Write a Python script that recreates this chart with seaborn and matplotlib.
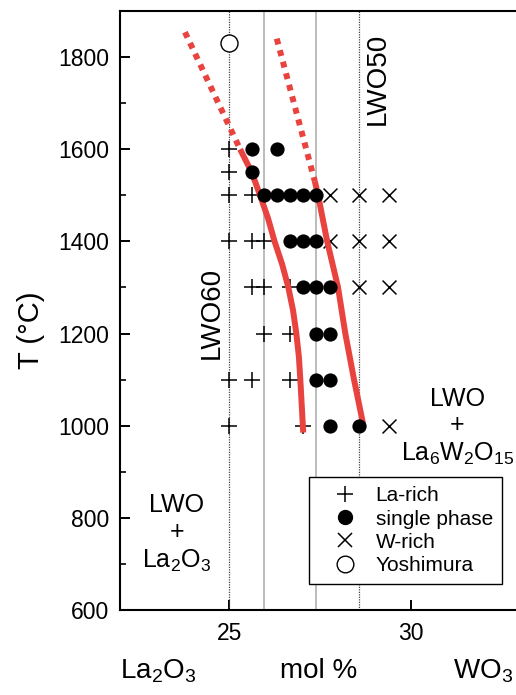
import matplotlib
matplotlib.use("Agg")
import matplotlib.pyplot as plt
from matplotlib.lines import Line2D
import seaborn as sns
import pandas as pd

# Phase observations: WO3 content (mol %) and annealing temperature (°C)
la_rich_wo3 = [25.00, 25.00, 25.00, 25.64, 25.00, 25.64, 25.97,
               25.64, 25.97, 26.67, 25.97, 26.67,
               25.00, 25.64, 26.67, 25.00, 27.03]
la_rich_T = [1600, 1550, 1500, 1500, 1400, 1400, 1400,
             1300, 1300, 1300, 1200, 1200,
             1100, 1100, 1100, 1000, 1000]

single_wo3 = [25.64, 26.32, 25.64,
              25.97, 26.32, 26.67, 27.03, 27.40,
              26.67, 27.03, 27.40,
              27.03, 27.40, 27.78,
              27.40, 27.78, 27.40, 27.78, 27.78, 28.57]
single_T = [1600, 1600, 1550,
            1500, 1500, 1500, 1500, 1500,
            1400, 1400, 1400,
            1300, 1300, 1300,
            1200, 1200, 1100, 1100, 1000, 1000]

w_rich_wo3 = [27.78, 28.57, 29.41, 27.78, 28.57, 29.41, 28.57, 29.41, 29.41]
w_rich_T = [1500, 1500, 1500, 1400, 1400, 1400, 1300, 1300, 1000]

yoshimura_wo3 = [25.0]
yoshimura_T = [1830]

# Phase boundaries (solid: measured range, dotted: extrapolation)
left_wo3 = [25.30, 25.62, 25.85, 26.07, 26.25, 26.46, 26.63, 26.76, 26.85, 26.92, 26.96, 27.04]
left_T = [1600, 1550, 1500, 1450, 1400, 1350, 1300, 1250, 1200, 1150, 1100, 985]
left_ext_wo3 = [23.78, 25.30]
left_ext_T = [1854, 1600]

right_wo3 = [27.36, 27.45, 27.70, 28.00, 28.20, 28.44, 28.70]
right_T = [1530, 1500, 1400, 1300, 1200, 1100, 1000]
right_ext_wo3 = [26.31, 27.36]
right_ext_T = [1840, 1530]

# Reference compositions: LWO60, La/W 5.7, La/W 5.3, LWO50
dotted_refs = [25.0, 28.57]
solid_refs = [25.97, 27.40]

y_ticks = [600, 800, 1000, 1200, 1400, 1600, 1800]
x_ticks = [25, 30]

sns.set_style("ticks")
plt.rcParams["font.family"] = ["Liberation Sans", "DejaVu Sans"]
plt.rcParams["mathtext.fontset"] = "custom"
plt.rcParams["mathtext.rm"] = "Liberation Sans"
plt.rcParams["mathtext.it"] = "Liberation Sans:italic"
plt.rcParams["mathtext.bf"] = "Liberation Sans:bold"
for key in ["text.color", "axes.labelcolor", "xtick.color", "ytick.color",
            "xtick.labelcolor", "ytick.labelcolor"]:
    plt.rcParams[key] = "black"

W, H = 516, 695
fig = plt.figure(figsize=(W / 100, H / 100), dpi=100)
ax = fig.add_axes([120 / W, (H - 610) / H, (530 - 120) / W, (610 - 11) / H])

red = "#e8433f"

for xv in dotted_refs:
    ax.axvline(xv, color="#444444", lw=0.9, ls=(0, (1, 1)), zorder=1)
for xv in solid_refs:
    ax.axvline(xv, color="#b0b0b0", lw=1.2, zorder=1)

def curve(xs, ys, dotted=False):
    df = pd.DataFrame({"x": xs, "y": ys})
    sns.lineplot(data=df, x="x", y="y", sort=False, estimator=None, ax=ax,
                 color=red, lw=4.3, zorder=3,
                 ls=(0, (1, 1)) if dotted else "-",
                 dash_capstyle="butt", solid_capstyle="butt")

curve(left_wo3, left_T)
curve(left_ext_wo3, left_ext_T, dotted=True)
curve(right_wo3, right_T)
curve(right_ext_wo3, right_ext_T, dotted=True)

sns.scatterplot(x=la_rich_wo3, y=la_rich_T, marker="+", s=130, color="k",
                linewidth=1.1, ax=ax, zorder=2, legend=False)
sns.scatterplot(x=single_wo3, y=single_T, marker="o", s=105, color="k",
                edgecolor="k", linewidth=0, ax=ax, zorder=4, legend=False)
sns.scatterplot(x=w_rich_wo3, y=w_rich_T, marker="x", s=100, color="k",
                linewidth=1.1, ax=ax, zorder=2, legend=False)
sns.scatterplot(x=yoshimura_wo3, y=yoshimura_T, marker="o", s=150, facecolor="white",
                edgecolor="k", linewidth=1.0, ax=ax, zorder=4, legend=False)

ax.set_xlim(21.99, 33.29)
ax.set_ylim(600, 1900)
ax.set_xticks(x_ticks)
ax.set_yticks(y_ticks)
ax.set_yticks(range(700, 1900, 200), minor=True)
ax.tick_params(axis="both", which="major", direction="in", length=7, width=1.4,
               labelsize=16.5, color="k", labelcolor="k")
ax.tick_params(axis="x", pad=9)
ax.tick_params(axis="y", pad=8)
ax.tick_params(axis="y", which="minor", direction="in", length=4.5, width=1.2, color="k")
for side in ["left", "bottom", "top", "right"]:
    ax.spines[side].set_linewidth(1.5)
    ax.spines[side].set_color("k")

ax.set_xlabel("")
ax.set_ylabel("T (°C)", fontsize=21, color="k")
ax.yaxis.set_label_coords((45 - 120) / 410, (610 - 330) / 599)

ax.text(29.1, 1752, "LWO50", rotation=90, fontsize=20, ha="center", va="center")
ax.text(24.52, 1245, "LWO60", rotation=90, fontsize=20, ha="center", va="center")
ax.text(23.55, 766, "LWO\n+\nLa$_{2}$O$_{3}$", fontsize=18, ha="center", va="center",
        linespacing=1.15)
ax.text(31.29, 998, "LWO\n+\nLa$_{6}$W$_{2}$O$_{15}$", fontsize=18, ha="center",
        va="center", linespacing=1.15)

fig.text(158 / W, (H - 671) / H, "La$_{2}$O$_{3}$", fontsize=20, ha="center", va="center")
fig.text(319 / W, (H - 671) / H, "mol %", fontsize=20, ha="center", va="center")
fig.text(483 / W, (H - 671) / H, "WO$_{3}$", fontsize=20, ha="center", va="center")

handles = [
    Line2D([], [], ls="none", marker="+", color="k", markersize=12, mew=1.1),
    Line2D([], [], ls="none", marker="o", color="k", markersize=10),
    Line2D([], [], ls="none", marker="x", color="k", markersize=10.5, mew=1.1),
    Line2D([], [], ls="none", marker="o", mfc="white", mec="k", markersize=12, mew=1.0),
]
labels = ["La-rich", "single phase", "W-rich", "Yoshimura"]
leg = ax.legend(handles, labels, loc="upper left",
                bbox_to_anchor=((309 - 120) / 410, (610 - 477) / 599),
                borderaxespad=0, fontsize=15, frameon=True, fancybox=False,
                framealpha=1, edgecolor="k", handlelength=2.6, handletextpad=0.15,
                labelspacing=0.2, borderpad=0.45, labelcolor="k")
leg.get_frame().set_linewidth(1.0)

fig.savefig("out.png", dpi=100)
